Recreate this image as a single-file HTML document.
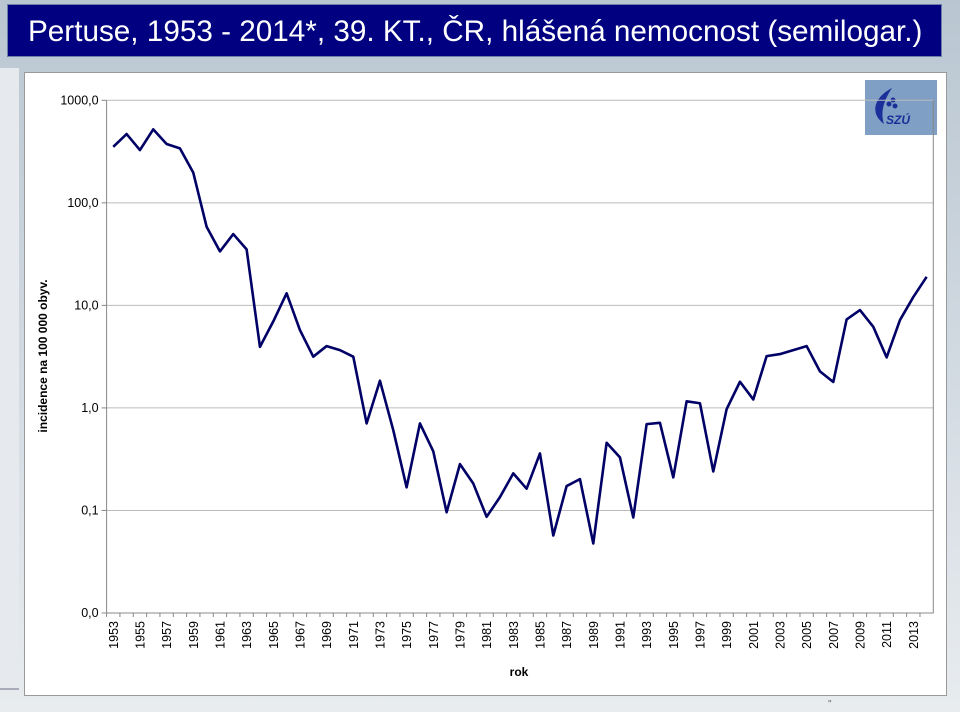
<!DOCTYPE html>
<html><head><meta charset="utf-8"><style>
body{margin:0;width:960px;height:712px;overflow:hidden;background:linear-gradient(#b9c6d1,#d6dde4 60%,#e8ecef);font-family:"Liberation Sans",sans-serif;position:relative}
#title{position:absolute;left:7px;top:4px;width:935px;height:53px;background:#000080;color:#fff;font:29.7px "Liberation Sans","DejaVu Sans",sans-serif;line-height:53px;padding-left:20px;box-sizing:border-box;border:1px solid #6b7fa8;white-space:nowrap}
#strip{position:absolute;left:0;top:68px;width:19px;height:620px;background:#e6eaee;border-bottom:2px solid #aab}
#panel{position:absolute;left:24px;top:72px;width:921px;height:622px;background:#fff;border:1px solid #999}
svg{position:absolute;left:0;top:0}
</style></head><body>
<div id="title">Pertuse, 1953 - 2014*, 39. KT., ČR, hlášená nemocnost (semilogar.)</div>
<div id="strip"></div>
<div id="panel"></div>
<svg id="chart" width="960" height="712">
<g>
<rect x="865" y="80" width="72" height="55" fill="#7f9fc4"/>
<path d="M892 88 C876 96 868 112 884 124 C880 112 884 100 892 88Z" fill="#1a2f9a"/>
<circle cx="889" cy="104" r="2.5" fill="#1a2f9a"/><circle cx="893" cy="100" r="2.5" fill="#1a2f9a"/><circle cx="895" cy="106" r="2.5" fill="#1a2f9a"/>
<text x="886" y="124" font-size="12" font-weight="bold" font-style="italic" fill="#1a2f9a" font-family="Liberation Sans, sans-serif">SZÚ</text>
</g>
<text x="828" y="707" font-size="10" fill="#666">"</text>
</svg>
<script>
const years=[];for(let y=1953;y<=2014;y++)years.push(y);
const values=[352,469,327,521,375,340,197,58.5,33.6,49.6,35.2,3.94,6.98,13.1,5.74,3.16,4.01,3.66,3.16,0.706,1.84,0.607,0.168,0.706,0.377,0.096,0.283,0.183,0.0867,0.135,0.230,0.163,0.360,0.057,0.173,0.202,0.0477,0.457,0.329,0.0855,0.695,0.716,0.210,1.16,1.11,0.240,0.973,1.80,1.21,3.20,3.35,3.66,4.01,2.27,1.79,7.30,9.0,6.18,3.11,7.19,12.05,19.0];
const tickVals=[1000,100,10,1,0.1,0.01];
const tickLabels=["1000,0","100,0","10,0","1,0","0,1","0,0"];
const NS='http://www.w3.org/2000/svg';
const svg=document.getElementById('chart');
const L=106.6,R=933.3,T=100.3,B=613;
const bw=(R-L)/years.length;
const xc=i=>L+bw*(i+0.5);
const yv=v=>T+(3-Math.log10(v))*(B-T)/5;
function mk(t,a){const e=document.createElementNS(NS,t);for(const k in a)e.setAttribute(k,a[k]);svg.appendChild(e);return e;}
tickVals.forEach((v,i)=>{
 const y=yv(v);
 if(i<tickVals.length-1){const g=mk('line',{x1:L,x2:R,y1:y,y2:y,stroke:'#bbb','stroke-width':1});
 
 }
 mk('line',{x1:L-5,x2:L,y1:y,y2:y,stroke:'#888'});
 const t=mk('text',{x:L-8,y:y+4,'text-anchor':'end','font-size':12.5,fill:'#000'});
 t.textContent=tickLabels[i];
 
 
});
const ax=mk('path',{d:`M${L} ${T}V${B}H${R}V${T}`,fill:'none',stroke:'#888'});


years.forEach((yr,i)=>{
 mk('line',{x1:L+bw*i,x2:L+bw*i,y1:B,y2:B+4,stroke:'#888'});
 if(i%2===0){const t=mk('text',{transform:`translate(${xc(i)+4.5},${B+8}) rotate(-90)`,'text-anchor':'end','font-size':12.5});
 t.textContent=yr;
 
 }
});
const line=mk('polyline',{points:values.map((v,i)=>xc(i)+','+yv(v)).join(' '),fill:'none',stroke:'#000066','stroke-width':2.6,'stroke-linejoin':'round'});


const yt=mk('text',{transform:'translate(47,356) rotate(-90)','text-anchor':'middle','font-size':12,'font-weight':'bold'});
yt.textContent='incidence na 100 000 obyv.';


const xt=mk('text',{x:519,y:676,'text-anchor':'middle','font-size':12,'font-weight':'bold'});
xt.textContent='rok';


</script>
</body></html>
